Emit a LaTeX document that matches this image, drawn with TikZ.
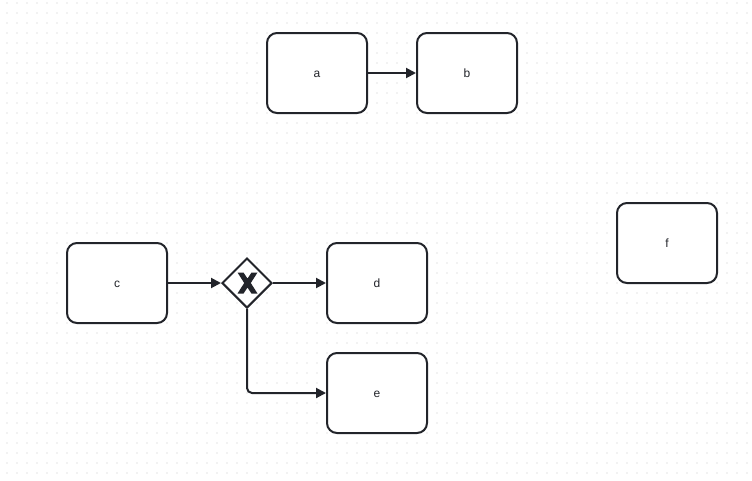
\documentclass[tikz,border=0pt]{standalone}
\usepackage{fontspec}
\setmainfont{Liberation Sans}
\usetikzlibrary{arrows.meta,shapes.geometric}
\definecolor{ink}{HTML}{22242A}
\definecolor{griddot}{HTML}{C8C8C8}
% task label on a fixed baseline just below the centre
\newcommand\tasklbl[1]{\raisebox{-4.4pt}[0pt][0pt]{#1}}
\begin{document}
\begin{tikzpicture}[x=1pt,y=-1pt,
  task/.style={draw=ink, fill=white, line width=2pt, rounded corners=10pt,
    minimum width=100pt, minimum height=80pt, inner sep=0pt,
    font=\fontsize{12}{14}\selectfont, text=ink},
  gateway/.style={draw=ink, fill=white, line width=2pt, diamond, aspect=1,
    minimum width=50pt, minimum height=50pt, inner sep=0pt},
  flow/.style={draw=ink, line width=2pt,
    -{Triangle[length=10pt,width=10pt]}}]
  % canvas and dotted grid
  \fill[white] (0,0) rectangle (752,480);
  \useasboundingbox (0,0) rectangle (752,480);
  \foreach \x in {7,17,...,747}
    \foreach \y in {3,13,...,473}
      \fill[griddot] (\x,\y) circle (0.7);

  % tasks
  \node[task] (a) at (317,73) {\tasklbl{a}};
  \node[task] (b) at (467,73) {\tasklbl{b}};
  \node[task] (c) at (117,283) {\tasklbl{c}};
  \node[task] (d) at (377,283) {\tasklbl{d}};
  \node[task] (e) at (377,393) {\tasklbl{e}};
  \node[task] (f) at (667,243) {\tasklbl{f}};

  % exclusive gateway with its X marker
  \node[gateway] (g) at (247,283) {};
  \fill[ink] (237.5,272.5) -- (243.5,272.5) -- (247.5,278.5) -- (251.5,272.5) -- (257.5,272.5)
    -- (250.8,283) -- (257.5,293.5) -- (251.5,293.5) -- (247.5,287.5) -- (243.5,293.5)
    -- (237.5,293.5) -- (244.2,283) -- cycle;

  % sequence flows
  \draw[flow] (a) -- (b);
  \draw[flow] (c) -- (g);
  \draw[flow] (g) -- (d);
  \draw[flow, rounded corners=5pt] (g.south) |- (e.west);
\end{tikzpicture}
\end{document}
